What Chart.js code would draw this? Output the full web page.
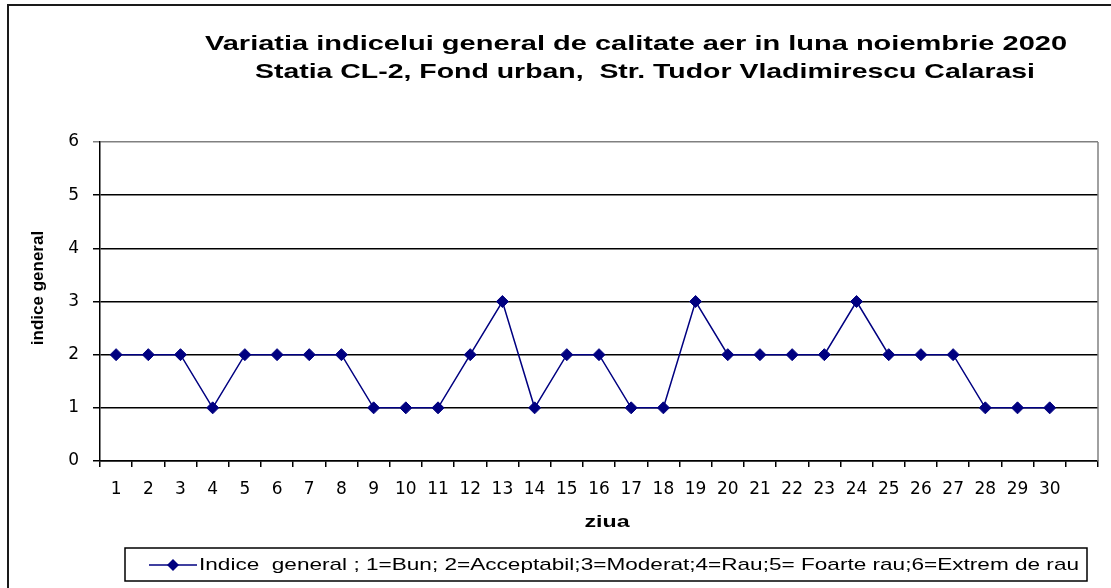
<!DOCTYPE html>
<html>
<head>
<meta charset="utf-8">
<script src="https://cdn.jsdelivr.net/npm/chart.js@4/dist/chart.umd.min.js"></script>
<style>
  html, body { margin: 0; padding: 0; background: #fff; overflow: hidden; }
  #wrap { width: 1111px; height: 588px; }
</style>
</head>
<body>
<div id="wrap"><canvas id="c" width="1111" height="588"></canvas></div>
<script>
const titleLines = [
  'Variatia indicelui general de calitate aer in luna noiembrie 2020',
  'Statia CL-2, Fond urban,  Str. Tudor Vladimirescu Calarasi'
];
const days = ['1','2','3','4','5','6','7','8','9','10','11','12','13','14','15','16','17','18','19','20','21','22','23','24','25','26','27','28','29','30',''];
const indiceGeneral = [2,2,2,1,2,2,2,2,1,1,1,2,3,1,2,2,1,1,3,2,2,2,2,3,2,2,2,1,1,1];
const seriesLabel = 'Indice  general ; 1=Bun; 2=Acceptabil;3=Moderat;4=Rau;5= Foarte rau;6=Extrem de rau';
const yTitle = 'indice general';
const xTitle = 'ziua';

const ARIAL = '"Liberation Sans", Arial, Helvetica, sans-serif';
const TICKFONT = '"DejaVu Sans", "Liberation Sans", Arial, sans-serif';
const NAVY = '#000080';

// draws text horizontally stretched by sx around its anchor (x, y)
function stretchedText(ctx, text, x, y, sx, align) {
  ctx.save();
  ctx.translate(x, y);
  ctx.scale(sx, 1);
  ctx.textAlign = align;
  ctx.fillText(text, 0, 0);
  ctx.restore();
}

const decorPlugin = {
  id: 'decor',
  beforeDatasetsDraw(chart) {
    const ctx = chart.ctx, a = chart.chartArea;
    ctx.save();
    ctx.strokeStyle = '#808080';
    ctx.lineWidth = 1.5;
    ctx.beginPath();
    ctx.moveTo(a.right, a.top);
    ctx.lineTo(a.right, a.bottom);
    ctx.stroke();
    ctx.restore();
  },
  afterDraw(chart) {
    const ctx = chart.ctx;
    ctx.save();
    // outer frame
    ctx.strokeStyle = '#1a1a1a';
    ctx.lineWidth = 2;
    ctx.beginPath();
    ctx.moveTo(8, 600);
    ctx.lineTo(8, 5);
    ctx.lineTo(1120, 5);
    ctx.stroke();

    // legend box
    ctx.strokeStyle = '#000';
    ctx.lineWidth = 1.5;
    ctx.beginPath();
    ctx.moveTo(125, 548);
    ctx.lineTo(1087, 548);
    ctx.lineTo(1087, 581);
    ctx.lineTo(125, 581);
    ctx.closePath();
    ctx.stroke();

    ctx.fillStyle = '#000';
    ctx.textBaseline = 'middle';

    // title (two lines)
    ctx.font = 'bold 21px ' + ARIAL;
    const t1 = 862 / ctx.measureText(titleLines[0]).width;
    const t2 = 780 / ctx.measureText(titleLines[1]).width;
    stretchedText(ctx, titleLines[0], 636, 44, t1, 'center');
    stretchedText(ctx, titleLines[1], 645, 72, t2, 'center');

    // axis titles
    ctx.font = 'bold 17px ' + ARIAL;
    const xsx = 45 / ctx.measureText(xTitle).width;
    stretchedText(ctx, xTitle, 607, 522, xsx, 'center');
    ctx.save();
    ctx.translate(38, 288);
    ctx.rotate(-Math.PI / 2);
    ctx.textAlign = 'center';
    ctx.fillText(yTitle, 0, 0);
    ctx.restore();

    // legend symbol + text
    const ly = 565;
    ctx.strokeStyle = NAVY;
    ctx.lineWidth = 1.5;
    ctx.beginPath();
    ctx.moveTo(149, ly);
    ctx.lineTo(197, ly);
    ctx.stroke();
    ctx.fillStyle = NAVY;
    ctx.beginPath();
    ctx.moveTo(173 - 6, ly);
    ctx.lineTo(173, ly - 6);
    ctx.lineTo(173 + 6, ly);
    ctx.lineTo(173, ly + 6);
    ctx.closePath();
    ctx.fill();
    ctx.fillStyle = '#000';
    ctx.font = '17px ' + ARIAL;
    const label = chart.data.datasets[0].label;
    const lsx = 880 / ctx.measureText(label).width;
    stretchedText(ctx, label, 199, ly, lsx, 'left');
    ctx.restore();
  }
};

new Chart(document.getElementById('c'), {
  type: 'line',
  data: {
    labels: days,
    datasets: [{
      label: seriesLabel,
      data: indiceGeneral,
      borderColor: NAVY,
      backgroundColor: NAVY,
      borderWidth: 1.5,
      tension: 0,
      pointStyle: 'rectRot',
      pointRadius: 6,
      pointBorderWidth: 1,
      pointBackgroundColor: NAVY,
      pointBorderColor: NAVY
    }]
  },
  options: {
    responsive: false,
    devicePixelRatio: 1,
    animation: false,
    layout: { padding: { left: 0, right: 13, top: 142, bottom: 0 } },
    plugins: {
      legend: { display: false },
      title: { display: false },
      tooltip: { enabled: false }
    },
    scales: {
      x: {
        type: 'category',
        offset: true,
        afterFit(scale) { scale.height = 127; },
        grid: {
          offset: true,
          drawOnChartArea: false,
          drawTicks: true,
          tickLength: 6,
          color: '#000',
          lineWidth: 1.5
        },
        border: { display: true, color: '#000', width: 1.5 },
        ticks: {
          autoSkip: false,
          maxRotation: 0,
          minRotation: 0,
          padding: 12,
          color: '#000',
          font: { family: TICKFONT, size: 17 }
        },
        title: { display: false }
      },
      y: {
        min: 0,
        max: 6,
        afterFit(scale) { scale.width = 100; },
        grid: {
          color: (c) => (c.tick && c.tick.value === 6 ? '#808080' : '#000'),
          lineWidth: 1.5,
          tickLength: 7,
          drawTicks: true
        },
        border: { display: true, color: '#000', width: 1.5 },
        ticks: {
          stepSize: 1,
          padding: 14,
          color: '#000',
          font: { family: TICKFONT, size: 17 }
        },
        title: { display: false }
      }
    }
  },
  plugins: [decorPlugin]
});
</script>
</body>
</html>
